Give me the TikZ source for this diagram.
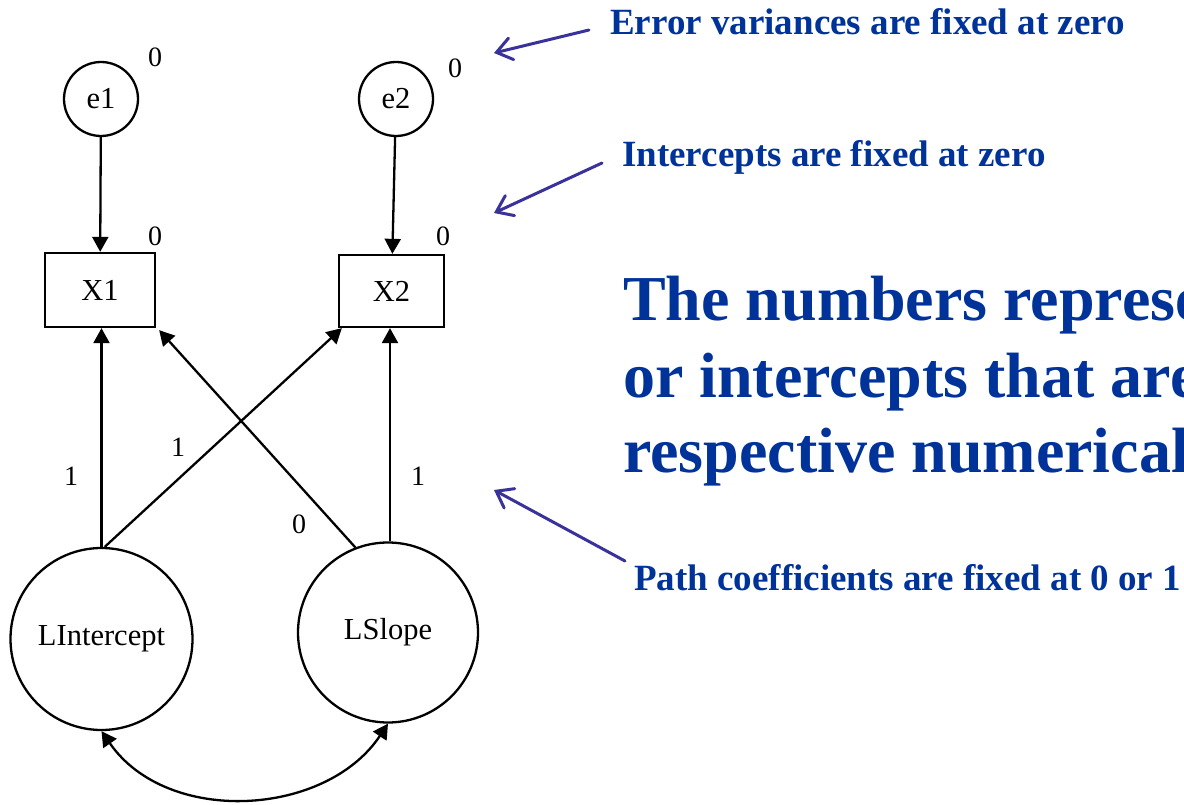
\documentclass[tikz,border=0pt]{standalone}
\usepackage{fontspec}
\setmainfont{Liberation Serif}
\usetikzlibrary{arrows.meta}
\definecolor{txtblue}{RGB}{0,51,153}
\definecolor{arrblue}{RGB}{58,50,155}
\begin{document}
\begin{tikzpicture}[x=1pt,y=-1pt,
  lat/.style={circle,draw,line width=2.3pt,inner sep=0pt,font=\fontsize{30.5}{36}\selectfont},
  obs/.style={rectangle,draw,line width=2.3pt,inner sep=0pt,font=\fontsize{30.5}{36}\selectfont},
  lbl/.style={inner sep=0pt,font=\fontsize{28}{32}\selectfont},
  pth/.style={line width=2.3pt,-{Triangle[length=15pt,width=16pt]}},
  bipth/.style={line width=2.3pt,{Triangle[length=15pt,width=16pt]}-{Triangle[length=15pt,width=16pt]}},
  note/.style={text=txtblue,font=\fontsize{37}{44}\selectfont\bfseries,inner sep=0pt,anchor=base west},
  big/.style={text=txtblue,font=\fontsize{64}{76}\selectfont\bfseries,inner sep=0pt,anchor=base west},
  barb/.style={draw=arrblue,line width=3pt,line cap=round,-{Straight Barb[length=15pt,width=22pt,line cap=round]}}
]
\useasboundingbox (0,0) rectangle (1184,805);
\clip (0,0) rectangle (1184,805);

% nodes
\node[lat,minimum size=74pt] (e1) at (101,99) {e1};
\node[lat,minimum size=74pt] (e2) at (396,99) {e2};
\node[obs,minimum width=110pt,minimum height=74pt] (X1) at (100,290) {X1};
\node[obs,minimum width=105pt,minimum height=72pt] (X2) at (391.5,291) {X2};
\node[lat,minimum size=182pt] (LI) at (101.5,639) {LIntercept};
\node[lat,minimum size=180pt] (LS) at (388,632.5) {LSlope};

% fixed values
\node[lbl] (v1) at (155,57) {0};
\node[lbl] (v2) at (455,68) {0};
\node[lbl] (v3) at (155,236) {0};
\node[lbl] (v4) at (443,236) {0};
\node[lbl] (c1) at (71,476) {1};
\node[lbl] (c2) at (178,447) {1};
\node[lbl] (c3) at (299,524) {0};
\node[lbl] (c4) at (418,476) {1};

% paths
\draw[pth] (e1) -- (X1);
\draw[pth] (e2) -- (X2);
\draw[pth] (LI.north) -- (LI.north |- X1.south);
\draw[pth] (LI.88) -- ([xshift=4pt]X2.south west);
\draw[pth] (LS.111) -- ([xshift=3pt,yshift=-2pt]X1.south east);
\draw[pth] ([xshift=2pt]LS.north) -- ([xshift=2pt]LS.north |- X2.south);
\draw[bipth] (LI.south) .. controls (167,826) and (326,817) .. (LS.south);

% annotations
\node[note] (t1) at (610,35) {Error variances are fixed at zero};
\node[note] (t2) at (622,167) {Intercepts are fixed at zero};
\node[big] (b1) at (623,320) {The numbers represe};
\node[big] (b2) at (623,397) {or intercepts that are};
\node[big] (b3) at (623,472) {respective numerical};
\node[note] (t3) at (634,590) {Path coefficients are fixed at 0 or 1};

\coordinate (a1s) at (589,30);
\coordinate (a1e) at (494,53);
\coordinate (a2s) at (602,163);
\coordinate (a2e) at (494,213);
\coordinate (a3s) at (625,561);
\coordinate (a3e) at (494,490);
\draw[barb] (a1s) -- (a1e);
\draw[barb] (a2s) -- (a2e);
\draw[barb] (a3s) -- (a3e);
\end{tikzpicture}
\end{document}
